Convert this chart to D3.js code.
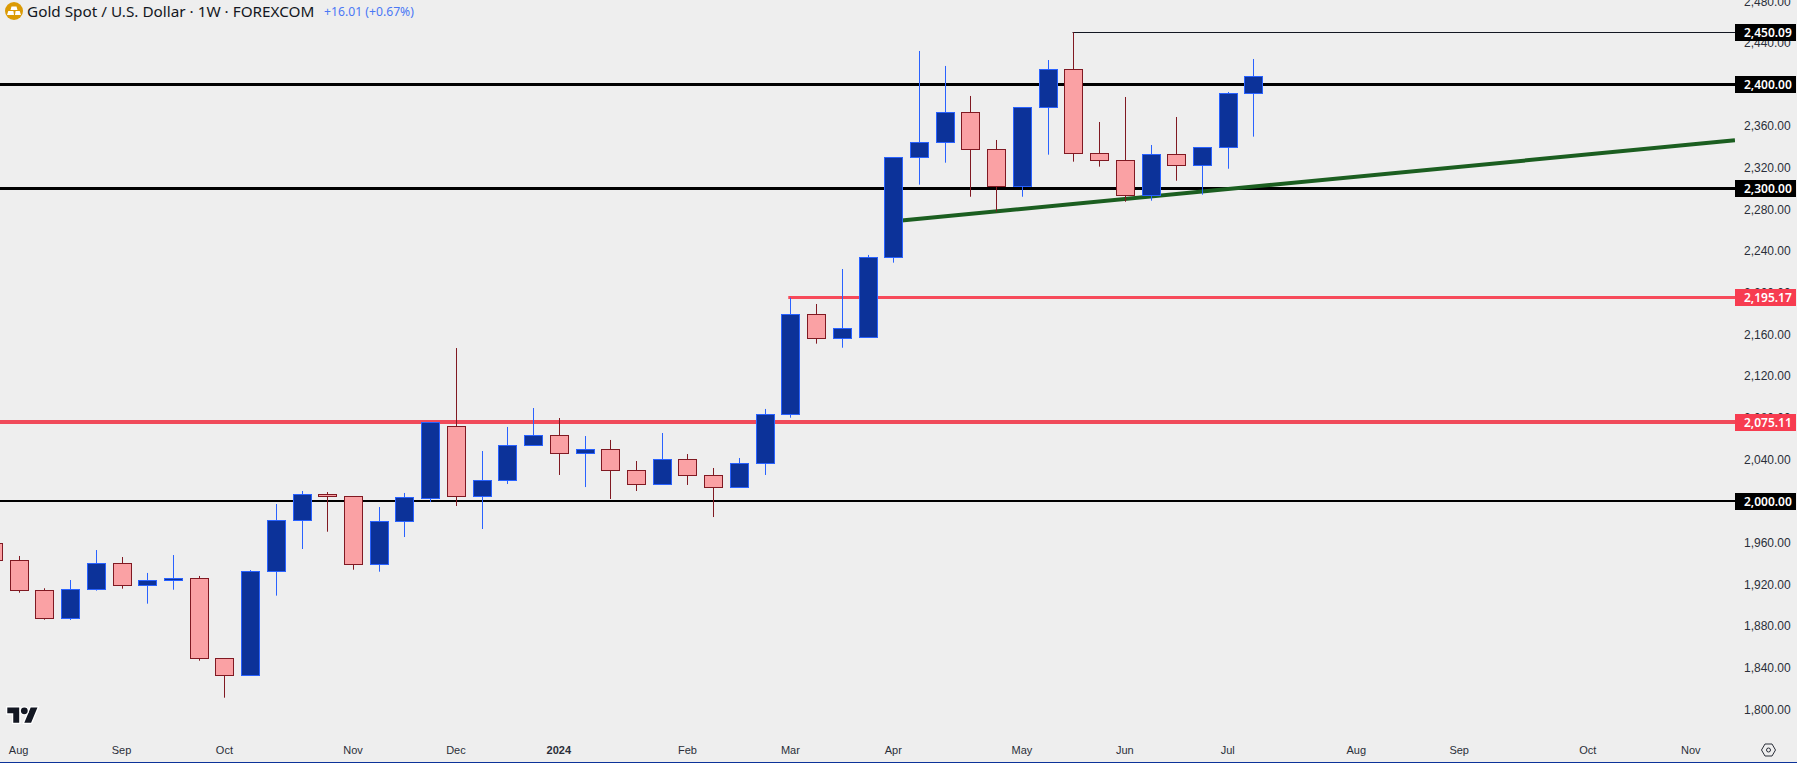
<!DOCTYPE html>
<html>
<head>
<meta charset="utf-8">
<style>
    html, body { margin: 0; padding: 0; background: #eeeeee; overflow: hidden; }
    svg { display: block; font-family: "Noto Sans", sans-serif; }
    .axis text { font-size: 12px; fill: #2a2e39; }
</style>
<script src="https://cdn.jsdelivr.net/npm/d3@7"></script>
</head>
<body>
<div id="chart"></div>
<script>
// Weekly candles, first one is the cut off week at the left edge
var opens = [1959.2, 1942.9, 1914.0, 1887.2, 1915.0, 1940.0, 1918.9, 1923.7, 1925.6, 1848.7,
    1832.4, 1932.3, 1981.3, 2006.2, 2004.3, 1939.0, 1980.3, 2002.4, 2071.5, 2004.3,
    2019.7, 2053.3, 2062.9, 2045.6, 2049.5, 2029.3, 2015.8, 2039.9, 2024.5, 2013.0,
    2036.0, 2083.1, 2179.1, 2156.1, 2157.0, 2233.9, 2329.9, 2344.3, 2373.1, 2337.6,
    2302.0, 2377.9, 2414.4, 2333.7, 2327.0, 2293.4, 2332.8, 2322.2, 2339.5, 2391.4];
var highs = [1962.0, 1947.2, 1916.2, 1924.1, 1952.9, 1946.2, 1930.9, 1948.1, 1928.0, 1848.7,
    1933.7, 1997.1, 2009.6, 2008.6, 2004.3, 1994.2, 2007.7, 2075.4, 2146.9, 2048.0,
    2071.1, 2089.3, 2079.7, 2062.4, 2058.6, 2038.4, 2065.3, 2045.1, 2031.7, 2041.3,
    2088.4, 2195.17, 2189.2, 2222.8, 2236.3, 2329.9, 2432.2, 2417.8, 2389.0, 2346.7,
    2377.9, 2423.5, 2450.09, 2364.0, 2388.0, 2341.9, 2368.8, 2339.7, 2392.8, 2424.5];
var lows = [1940.0, 1911.9, 1886.0, 1885.7, 1913.9, 1915.8, 1901.4, 1914.8, 1846.6, 1811.1,
    1832.4, 1909.1, 1953.9, 1970.5, 1934.0, 1932.1, 1965.4, 1999.0, 1995.2, 1973.1,
    2016.3, 2053.3, 2025.0, 2013.4, 2001.9, 2009.6, 2015.8, 2015.4, 1984.6, 2013.0,
    2025.0, 2080.0, 2151.1, 2147.2, 2157.0, 2228.9, 2303.8, 2324.9, 2292.2, 2277.8,
    2292.2, 2332.6, 2325.9, 2321.1, 2287.4, 2288.4, 2307.6, 2294.2, 2319.1, 2349.9];
var closes = [1942.9, 1914.0, 1887.2, 1915.0, 1940.0, 1918.9, 1923.7, 1925.6, 1848.7, 1832.4,
    1932.3, 1981.3, 2006.2, 2004.3, 1939.0, 1980.3, 2003.4, 2075.4, 2004.3, 2019.7,
    2053.3, 2062.9, 2045.6, 2049.5, 2029.3, 2015.8, 2039.9, 2024.5, 2013.0, 2036.0,
    2083.1, 2179.1, 2156.1, 2165.7, 2233.9, 2329.9, 2344.3, 2373.1, 2337.6, 2302.0,
    2377.9, 2414.4, 2333.7, 2327.0, 2293.4, 2332.8, 2322.2, 2339.5, 2391.4, 2407.7];

// Price axis
var priceTicks = [2480, 2440, 2360, 2320, 2280, 2240, 2200, 2160, 2120, 2080, 2040,
    1960, 1920, 1880, 1840, 1800];

// Time axis, ticks sit on week numbers
var timeTickWeeks = [1, 5, 9, 14, 18, 22, 27, 31, 35, 40, 44, 48, 53, 57, 62, 66];
var timeTickLabels = ["Aug", "Sep", "Oct", "Nov", "Dec", "2024", "Feb", "Mar", "Apr", "May", "Jun", "Jul", "Aug", "Sep", "Oct", "Nov"];

// Horizontal levels and the week each one starts on
var levelPrices = [2450.09, 2400, 2300, 2195.17, 2075.11, 2000];
var levelStartWeeks = [41.95, -1, -1, 30.9, -1, -1];

// Trend line end points
var trendWeeks = [35, 67.7];
var trendPrices = [2268.7, 2346.4];

var width = 1797;
var height = 763;
var plotRight = 1735;

var levelStyles = {
    2450.09: {color: "#131722", width: 1, tag: "#000000"},
    2400: {color: "#000000", width: 3, tag: "#000000"},
    2300: {color: "#000000", width: 3, tag: "#000000"},
    2195.17: {color: "#f74a5a", width: 3, tag: "#f73c50"},
    2075.11: {color: "#f04a5a", width: 4, tag: "#f73c50"},
    2000: {color: "#000000", width: 2, tag: "#000000"}
};

var x = d3.scaleLinear()
    .domain([1, 49])
    .range([19.1, 1253.9]);

var y = d3.scaleLinear()
    .domain([2000, 2400])
    .range([501, 84.5]);

// Snap to the pixel grid so 1px strokes stay sharp
var snap = function(v) {
    return Math.floor(v) + 0.5;
};

var svg = d3.select("#chart").append("svg")
    .attr("width", width)
    .attr("height", height);

svg.append("rect")
    .attr("width", width)
    .attr("height", height)
    .attr("fill", "#eeeeee");

svg.append("clipPath")
    .attr("id", "plot-clip")
    .append("rect")
    .attr("width", plotRight)
    .attr("height", height);

var plot = svg.append("g").attr("clip-path", "url(#plot-clip)");

// Price axis first, the level tags cover some of its labels
var priceAxis = d3.axisRight(y)
    .tickValues(priceTicks)
    .tickSize(0)
    .tickPadding(9)
    .tickFormat(d3.format(",.2f"));

svg.append("g")
    .attr("class", "axis")
    .attr("transform", "translate(" + plotRight + ",0)")
    .call(priceAxis)
    .call(function(g) { g.select(".domain").remove(); });

var timeAxis = d3.axisBottom(x)
    .tickValues(timeTickWeeks)
    .tickSize(0)
    .tickPadding(0)
    .tickFormat(function(d, i) { return timeTickLabels[i]; });

svg.append("g")
    .attr("class", "axis")
    .attr("transform", "translate(-1,746)")
    .call(timeAxis)
    .call(function(g) {
        g.select(".domain").remove();
        g.selectAll("text")
            .style("font-size", "11px")
            .style("font-weight", function(d, i) { return timeTickLabels[i] == "2024" ? 600 : 400; });
    });

// Levels
levelPrices.forEach(function(price, i) {
    var style = levelStyles[price];
    var lineY = style.width % 2 ? snap(y(price)) : Math.floor(y(price));
    plot.append("line")
        .attr("x1", x(levelStartWeeks[i]))
        .attr("x2", plotRight)
        .attr("y1", lineY)
        .attr("y2", lineY)
        .attr("stroke", style.color)
        .attr("stroke-width", style.width);
});

// Trend line
plot.append("line")
    .attr("x1", x(trendWeeks[0]))
    .attr("y1", y(trendPrices[0]))
    .attr("x2", x(trendWeeks[1]))
    .attr("y2", y(trendPrices[1]))
    .attr("stroke", "#1b5e20")
    .attr("stroke-width", 4);

// Candles
var candles = plot.selectAll("g.candle")
    .data(opens)
    .enter()
    .append("g")
    .attr("class", "candle");

var isUp = function(i) {
    return closes[i] >= opens[i];
};

candles.append("line")
    .attr("x1", function(d, i) { return snap(x(i)); })
    .attr("x2", function(d, i) { return snap(x(i)); })
    .attr("y1", function(d, i) { return y(highs[i]); })
    .attr("y2", function(d, i) { return y(lows[i]); })
    .attr("stroke", function(d, i) { return isUp(i) ? "#2962ff" : "#801922"; })
    .attr("stroke-width", 1);

candles.append("rect")
    .attr("x", function(d, i) { return snap(x(i)) - 9; })
    .attr("width", 18)
    .attr("y", function(d, i) { return snap(y(Math.max(opens[i], closes[i]))); })
    .attr("height", function(d, i) {
        return snap(y(Math.min(opens[i], closes[i]))) - snap(y(Math.max(opens[i], closes[i])));
    })
    .attr("fill", function(d, i) { return isUp(i) ? "#0c3299" : "#faa1a4"; })
    .attr("stroke", function(d, i) { return isUp(i) ? "#2962ff" : "#801922"; })
    .attr("stroke-width", 1);

// Level tags
levelPrices.forEach(function(price) {
    var tagTop = Math.floor(y(price)) - 8;
    svg.append("rect")
        .attr("x", plotRight)
        .attr("y", tagTop)
        .attr("width", 61)
        .attr("height", 17)
        .attr("fill", levelStyles[price].tag);
    svg.append("text")
        .attr("x", plotRight + 9)
        .attr("y", tagTop + 13)
        .attr("fill", "#ffffff")
        .style("font-size", "12px")
        .style("font-weight", 600)
        .text(d3.format(",.2f")(price));
});

// Header
var icon = svg.append("g").attr("transform", "translate(14,11)");
icon.append("circle").attr("r", 9).attr("fill", "#db9b06");
icon.append("path")
    .attr("d", "M-2.5,-4.5H2.5L3.5,-1H-3.5Z M-7,4L-5.7,0H-0.6L0,4Z M1,4L1.6,0H5.7L7,4Z")
    .attr("fill", "#ffffff");

svg.append("text")
    .attr("x", 27)
    .attr("y", 17)
    .attr("fill", "#131722")
    .style("font-size", "15.3px")
    .text("Gold Spot / U.S. Dollar · 1W · FOREXCOM");

svg.append("text")
    .attr("x", 324)
    .attr("y", 15.5)
    .attr("fill", "#4a78f5")
    .style("font-size", "12.2px")
    .text("+16.01 (+0.67%)");

// TradingView mark
var logo = svg.append("g").attr("transform", "translate(7.3,704) scale(0.85)");
logo.append("path")
    .attr("d", "M14 22H7V11H0V4h14v18zM28 22h-8l7.5-18h8L28 22z")
    .attr("fill", "#131722")
    .attr("stroke", "#ffffff")
    .attr("stroke-width", 3)
    .attr("paint-order", "stroke");
logo.append("circle")
    .attr("cx", 20)
    .attr("cy", 8)
    .attr("r", 4)
    .attr("fill", "#131722")
    .attr("stroke", "#ffffff")
    .attr("stroke-width", 3)
    .attr("paint-order", "stroke");

// Settings button
var gear = svg.append("g").attr("transform", "translate(1768.5,750)");
gear.append("path")
    .attr("d", "M-7,0L-3.5,-6H3.5L7,0L3.5,6H-3.5Z")
    .attr("fill", "none")
    .attr("stroke", "#2a2e39");
gear.append("circle")
    .attr("r", 2)
    .attr("fill", "none")
    .attr("stroke", "#2a2e39");

// Blue strip along the bottom edge
svg.append("rect")
    .attr("y", height - 1)
    .attr("width", width)
    .attr("height", 1)
    .attr("fill", "#0c3299");
</script>
</body>
</html>
